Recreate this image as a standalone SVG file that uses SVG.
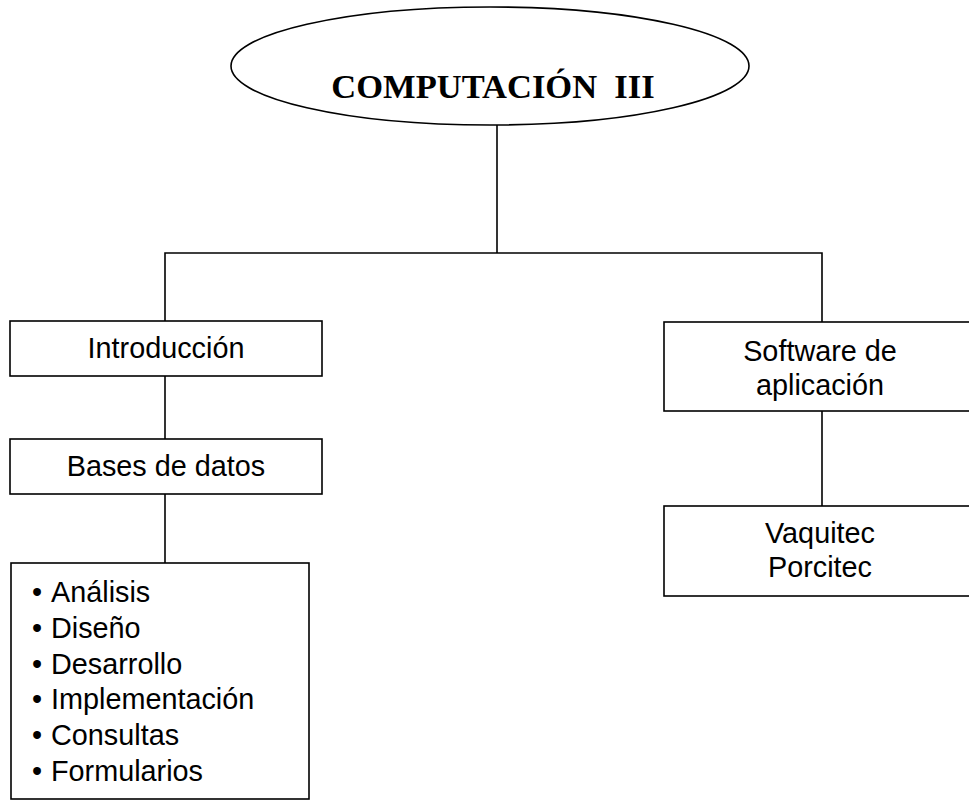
<svg xmlns="http://www.w3.org/2000/svg" width="969" height="800" viewBox="0 0 969 800">
<style>
.box{fill:#fff;stroke:#000;stroke-width:1.6}
.ln{fill:none;stroke:#000;stroke-width:1.6}
.t{font-family:"Liberation Sans",Arial,sans-serif;font-size:28.8px;fill:#000}
.c{text-anchor:middle}
.title{font-family:"Liberation Serif","Times New Roman",serif;font-size:34.5px;font-weight:bold;fill:#000;text-anchor:middle}
</style>
<rect width="969" height="800" fill="#fff"/>
<g id="connectors">
<line class="ln" x1="497" y1="125" x2="497" y2="253"/>
<polyline class="ln" points="165,321 165,253 822,253 822,322"/>
<line class="ln" x1="165" y1="376" x2="165" y2="439"/>
<line class="ln" x1="165" y1="494" x2="165" y2="563"/>
<line class="ln" x1="822" y1="411" x2="822" y2="506"/>
</g>
<g id="computacion">
<ellipse class="box" cx="490" cy="66" rx="259" ry="59"/>
<text class="title" x="493" y="98" xml:space="preserve">COMPUTACIÓN  III</text>
</g>
<g id="introduccion">
<rect class="box" x="10" y="321" width="312" height="55"/>
<text class="t c" x="166" y="358">Introducción</text>
</g>
<g id="bases">
<rect class="box" x="10" y="439" width="312" height="55"/>
<text class="t c" x="166" y="476">Bases de datos</text>
</g>
<g id="lista">
<rect class="box" x="11" y="563" width="298" height="236"/>
<text class="t" x="32" y="602">•<tspan x="51">Análisis</tspan></text>
<text class="t" x="32" y="638">•<tspan x="51">Diseño</tspan></text>
<text class="t" x="32" y="674">•<tspan x="51">Desarrollo</tspan></text>
<text class="t" x="32" y="709">•<tspan x="51">Implementación</tspan></text>
<text class="t" x="32" y="745">•<tspan x="51">Consultas</tspan></text>
<text class="t" x="32" y="781">•<tspan x="51">Formularios</tspan></text>
</g>
<g id="software">
<rect class="box" x="664" y="322" width="312" height="89"/>
<text class="t c" x="820" y="361">Software de</text>
<text class="t c" x="820" y="395">aplicación</text>
</g>
<g id="vaquitec">
<rect class="box" x="664" y="506" width="312" height="90"/>
<text class="t c" x="820" y="543">Vaquitec</text>
<text class="t c" x="820" y="577">Porcitec</text>
</g>
</svg>
